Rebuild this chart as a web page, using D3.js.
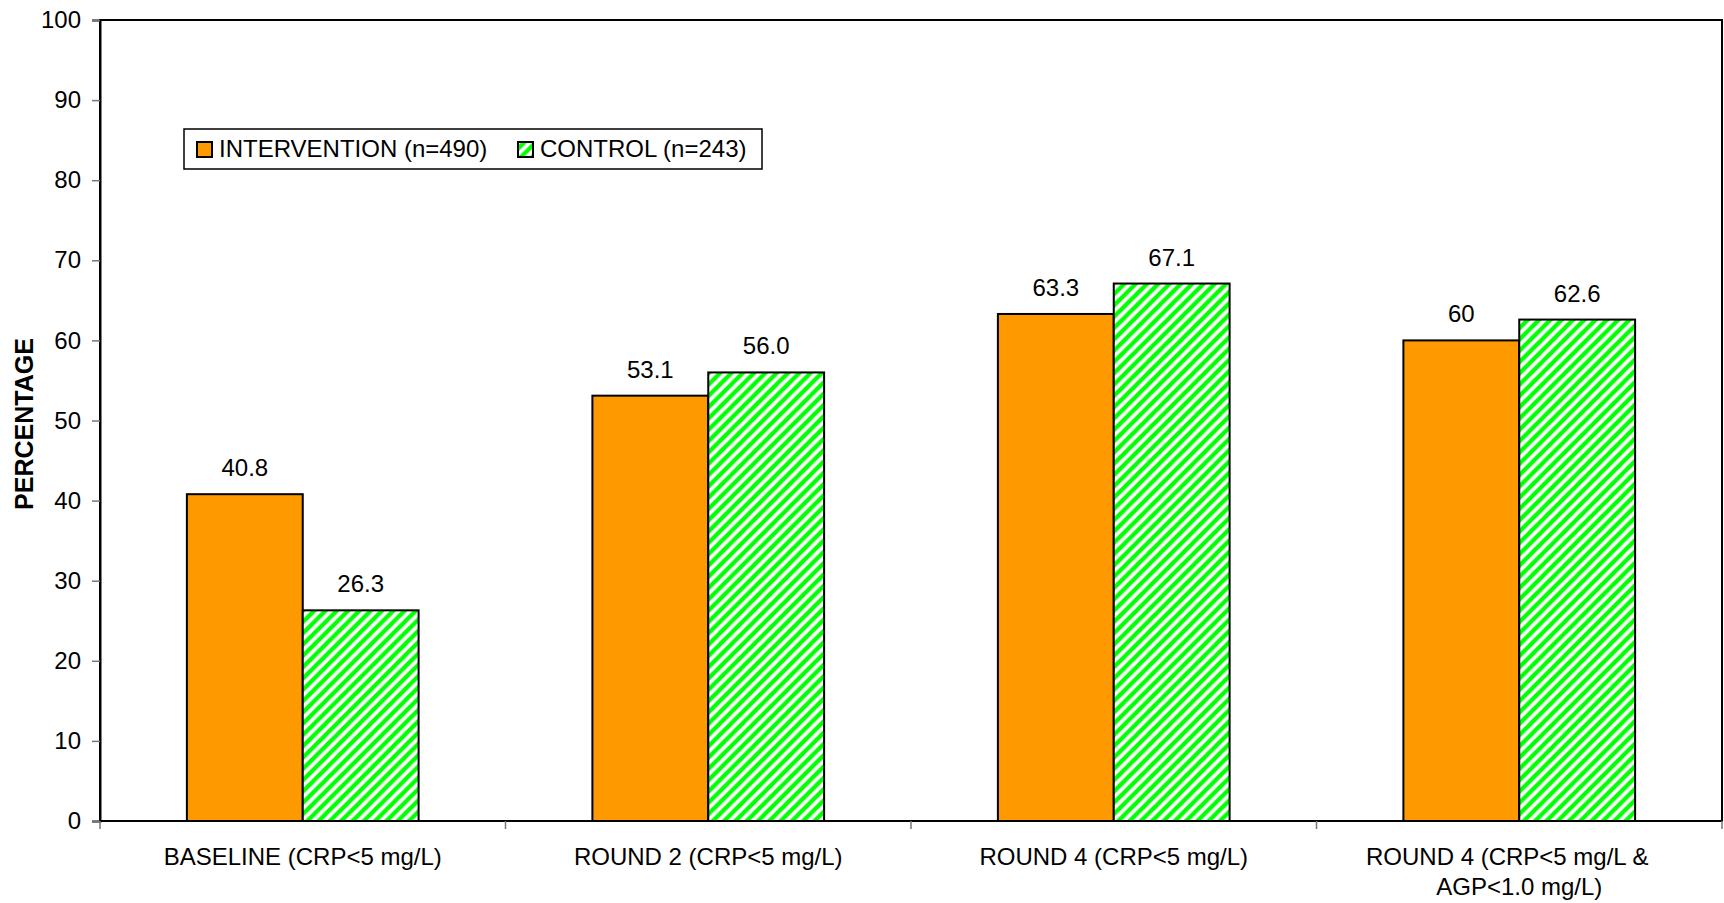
<!DOCTYPE html>
<html>
<head>
<meta charset="utf-8">
<script src="https://cdn.jsdelivr.net/npm/d3@7"></script>
<style>
  body { margin: 0; background: #fff; }
  svg { display: block; font-family: "Liberation Sans", Arial, sans-serif; }
</style>
</head>
<body>
<svg id="chart" width="1724" height="903"></svg>
<script>
// chart data
var categories = ["BASELINE (CRP<5 mg/L)", "ROUND 2 (CRP<5 mg/L)", "ROUND 4 (CRP<5 mg/L)", "ROUND 4 (CRP<5 mg/L &|AGP<1.0 mg/L)"];
var seriesNames = ["INTERVENTION (n=490)", "CONTROL (n=243)"];
var intervention = [40.8, 53.1, 63.3, 60];
var control = [26.3, 56.0, 67.1, 62.6];
var interventionLabels = ["40.8", "53.1", "63.3", "60"];
var controlLabels = ["26.3", "56.0", "67.1", "62.6"];
var yTicks = [0, 10, 20, 30, 40, 50, 60, 70, 80, 90, 100];

var svg = d3.select("#chart");
// plot area edges (window.top is reserved, so prefixed names)
var pLeft = 100, pRight = 1722, pTop = 20, pBottom = 821;

// hatch for control bars
var hp = 11.3;
var defs = svg.append("defs");
var pat = defs.append("pattern")
  .attr("id", "hatch")
  .attr("patternUnits", "userSpaceOnUse")
  .attr("width", hp).attr("height", hp);
pat.append("rect").attr("width", hp).attr("height", hp).attr("fill", "#fff");
pat.append("path")
  .attr("d", "M-3,3 L3,-3 M0," + hp + " L" + hp + ",0 M" + (hp - 3) + "," + (hp + 3) + " L" + (hp + 3) + "," + (hp - 3))
  .attr("stroke", "#00ff00")
  .attr("stroke-width", 4.2);

var x = d3.scaleBand().domain(categories).range([pLeft, pRight]).paddingInner(0).paddingOuter(0);
var x1 = d3.scaleBand().domain(seriesNames).range([0, x.bandwidth()]).paddingInner(0).paddingOuter(0.75);
var y = d3.scaleLinear().domain([0, 100]).range([pBottom, pTop]);

var rows = categories.map(function(c, i) {
  return [
    {cat: c, s: seriesNames[0], v: intervention[i], lab: interventionLabels[i]},
    {cat: c, s: seriesNames[1], v: control[i], lab: controlLabels[i]}
  ];
});
var fills = {};
fills[seriesNames[0]] = "#ff9900";
fills[seriesNames[1]] = "url(#hatch)";

// plot frame
svg.append("rect")
  .attr("x", pLeft).attr("y", pTop)
  .attr("width", pRight - pLeft).attr("height", pBottom - pTop)
  .attr("fill", "none").attr("stroke", "#000").attr("stroke-width", 2);

// y axis
var yAxis = svg.append("g")
  .attr("transform", "translate(" + pLeft + ",0)")
  .call(d3.axisLeft(y).tickValues(yTicks).tickSize(8).tickPadding(11));
yAxis.select(".domain").attr("stroke", "#000").attr("stroke-width", 2);
yAxis.selectAll(".tick line").attr("stroke", "#777").attr("stroke-width", 1.5);
yAxis.selectAll(".tick text").attr("font-size", 24).attr("fill", "#000")
  .attr("font-family", "Liberation Sans, Arial, sans-serif");

// bars
var groups = svg.selectAll(".grp").data(rows).enter().append("g")
  .attr("class", "grp")
  .attr("transform", function(d, i) { return "translate(" + x(categories[i]) + ",0)"; });

groups.selectAll("rect").data(function(d) { return d; }).enter().append("rect")
  .attr("x", function(d) { return x1(d.s); })
  .attr("y", function(d) { return y(d.v); })
  .attr("width", x1.bandwidth())
  .attr("height", function(d) { return y(0) - y(d.v); })
  .attr("fill", function(d) { return fills[d.s]; })
  .attr("stroke", "#000").attr("stroke-width", 2);

groups.selectAll("text").data(function(d) { return d; }).enter().append("text")
  .attr("x", function(d) { return x1(d.s) + x1.bandwidth() / 2; })
  .attr("y", function(d) { return y(d.v) - 18; })
  .attr("text-anchor", "middle")
  .attr("font-size", 24)
  .text(function(d) { return d.lab; });

// x axis line and category ticks
svg.append("line")
  .attr("x1", pLeft).attr("x2", pRight).attr("y1", pBottom).attr("y2", pBottom)
  .attr("stroke", "#000").attr("stroke-width", 2);
var bounds = categories.map(function(c) { return x(c); }).concat([pRight]);
svg.selectAll(".xtick").data(bounds).enter().append("line")
  .attr("class", "xtick")
  .attr("x1", function(d) { return d; }).attr("x2", function(d) { return d; })
  .attr("y1", pBottom).attr("y2", pBottom + 8)
  .attr("stroke", "#777").attr("stroke-width", 1.5);

var catLab = svg.selectAll(".catlab").data(categories).enter().append("text")
  .attr("class", "catlab")
  .attr("text-anchor", "middle")
  .attr("font-size", 24)
  .attr("y", 865);
catLab.each(function(c) {
  var parts = c.split("|");
  var cx = x(c) + x.bandwidth() / 2;
  var t = d3.select(this);
  parts.forEach(function(p, j) {
    t.append("tspan")
      .attr("x", cx + (parts.length > 1 && j == 0 ? -12 : 0))
      .attr("dy", j == 0 ? 0 : 30)
      .text(p);
  });
});

// y title
svg.append("text")
  .attr("transform", "translate(33,424) rotate(-90)")
  .attr("text-anchor", "middle")
  .attr("font-size", 25)
  .attr("font-weight", "bold")
  .text("PERCENTAGE");

// legend
var lg = svg.append("g");
lg.append("rect")
  .attr("x", 184).attr("y", 129).attr("width", 578).attr("height", 40)
  .attr("fill", "#fff").attr("stroke", "#000").attr("stroke-width", 1.5);
var lx = [197, 518];
seriesNames.forEach(function(s, i) {
  lg.append("rect")
    .attr("x", lx[i]).attr("y", 142).attr("width", 15).attr("height", 15)
    .attr("fill", fills[s]).attr("stroke", "#000").attr("stroke-width", 2);
  lg.append("text")
    .attr("x", lx[i] + 22).attr("y", 157)
    .attr("font-size", 24)
    .text(s);
});
</script>
</body>
</html>
